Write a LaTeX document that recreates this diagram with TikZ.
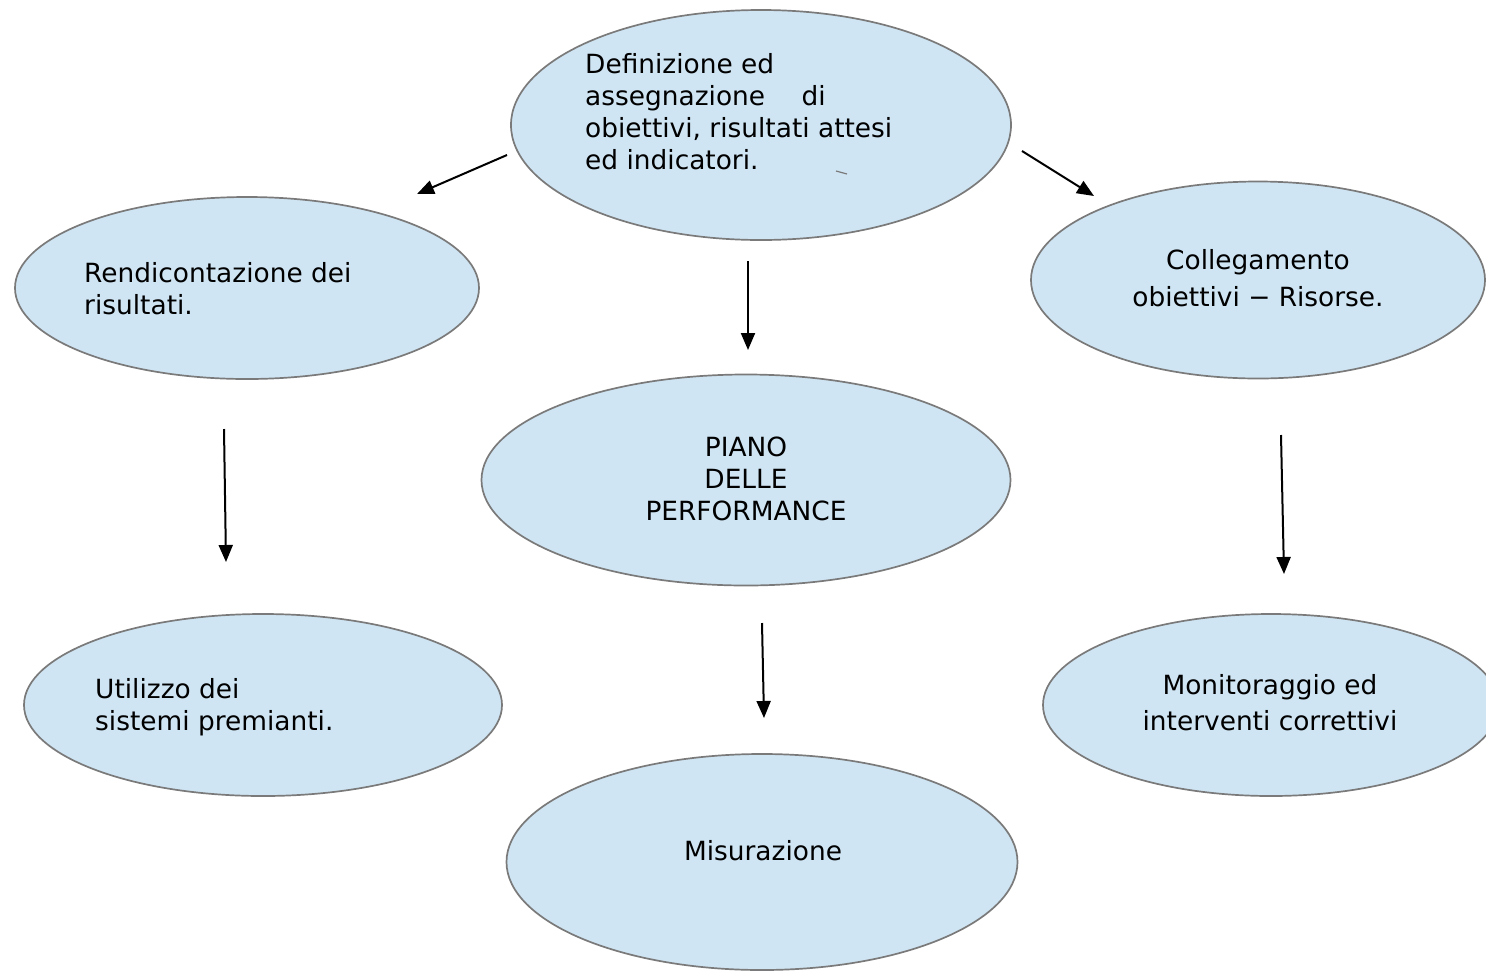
\documentclass[tikz,border=0pt]{standalone}
\usepackage{fontspec}
\setmainfont{DejaVu Sans}
\usetikzlibrary{arrows.meta,shapes.geometric}
\definecolor{ellfill}{RGB}{207,229,243}
\definecolor{ellline}{RGB}{122,122,122}
\tikzset{
  ell/.style={ellipse, draw=ellline, line width=1.7pt, fill=ellfill, inner sep=0pt},
  lbl/.style={font=\fontsize{26.4}{32}\selectfont, inner sep=0pt, text=black},
  arr/.style={draw=black, line width=2pt, -{Triangle[length=17pt,width=14pt]}}
}
\begin{document}
\begin{tikzpicture}[x=1pt,y=-1pt]
\useasboundingbox (0,0) rectangle (1486,970);
\clip (0,0) rectangle (1486,970);
\fill[white] (0,0) rectangle (1486,970);
% ellipses
\node[ell, minimum width=500pt, minimum height=230pt] (def) at (761,125) {};
\node[ell, minimum width=464pt, minimum height=182pt] (rend) at (247,288) {};
\node[ell, minimum width=454pt, minimum height=197pt] (coll) at (1258,280) {};
\node[ell, minimum width=529pt, minimum height=211pt] (piano) at (746,480) {};
\node[ell, minimum width=478pt, minimum height=182pt] (util) at (263,705) {};
\node[ell, minimum width=456pt, minimum height=182pt] (moni) at (1271,705) {};
\node[ell, minimum width=511pt, minimum height=216pt] (mis) at (762,862) {};
% texts
\node[lbl, align=left, anchor=north west] (tdef) at (585,{73-22.4})
  {\strut Definizione ed\\assegnazione\hspace{28pt} di\\obiettivi, risultati attesi\\ed indicatori.};
\node[lbl, align=left, anchor=north west] (trend) at (84,{282-22.4})
  {\strut Rendicontazione dei\\risultati.};
\node[lbl, align=center, anchor=north] (tcoll) at (1258,{269-22.4})
  {\strut Collegamento\\[5pt]obiettivi − Risorse.};
\node[lbl, align=center, anchor=north] (tpiano) at (746,{456-22.4})
  {\strut PIANO\\DELLE\\PERFORMANCE};
\node[lbl, align=left, anchor=north west] (tutil) at (95,{698-22.4})
  {\strut Utilizzo dei\\sistemi premianti.};
\node[lbl, align=center, anchor=north] (tmoni) at (1270,{694-22.4})
  {\strut Monitoraggio ed\\[4pt]interventi correttivi};
\node[lbl, align=center, anchor=north] (tmis) at (763,{860-22.4})
  {\strut Misurazione};
% small mark
\coordinate (m1) at (836,171);
\coordinate (m2) at (847,174);
\draw[ellline, line width=1.2pt] (m1) -- (m2);
% arrow ends
\coordinate (a1s) at (507,155); \coordinate (a1e) at (417,194);
\coordinate (a2s) at (1022,151); \coordinate (a2e) at (1094,196);
\coordinate (a3s) at (748,261); \coordinate (a3e) at (748,350);
\coordinate (a4s) at (224,429); \coordinate (a4e) at (226,562);
\coordinate (a5s) at (1281,435); \coordinate (a5e) at (1284,574);
\coordinate (a6s) at (762,623); \coordinate (a6e) at (764,718);
\draw[arr] (a1s) -- (a1e);
\draw[arr] (a2s) -- (a2e);
\draw[arr] (a3s) -- (a3e);
\draw[arr] (a4s) -- (a4e);
\draw[arr] (a5s) -- (a5e);
\draw[arr] (a6s) -- (a6e);
\end{tikzpicture}
\end{document}
